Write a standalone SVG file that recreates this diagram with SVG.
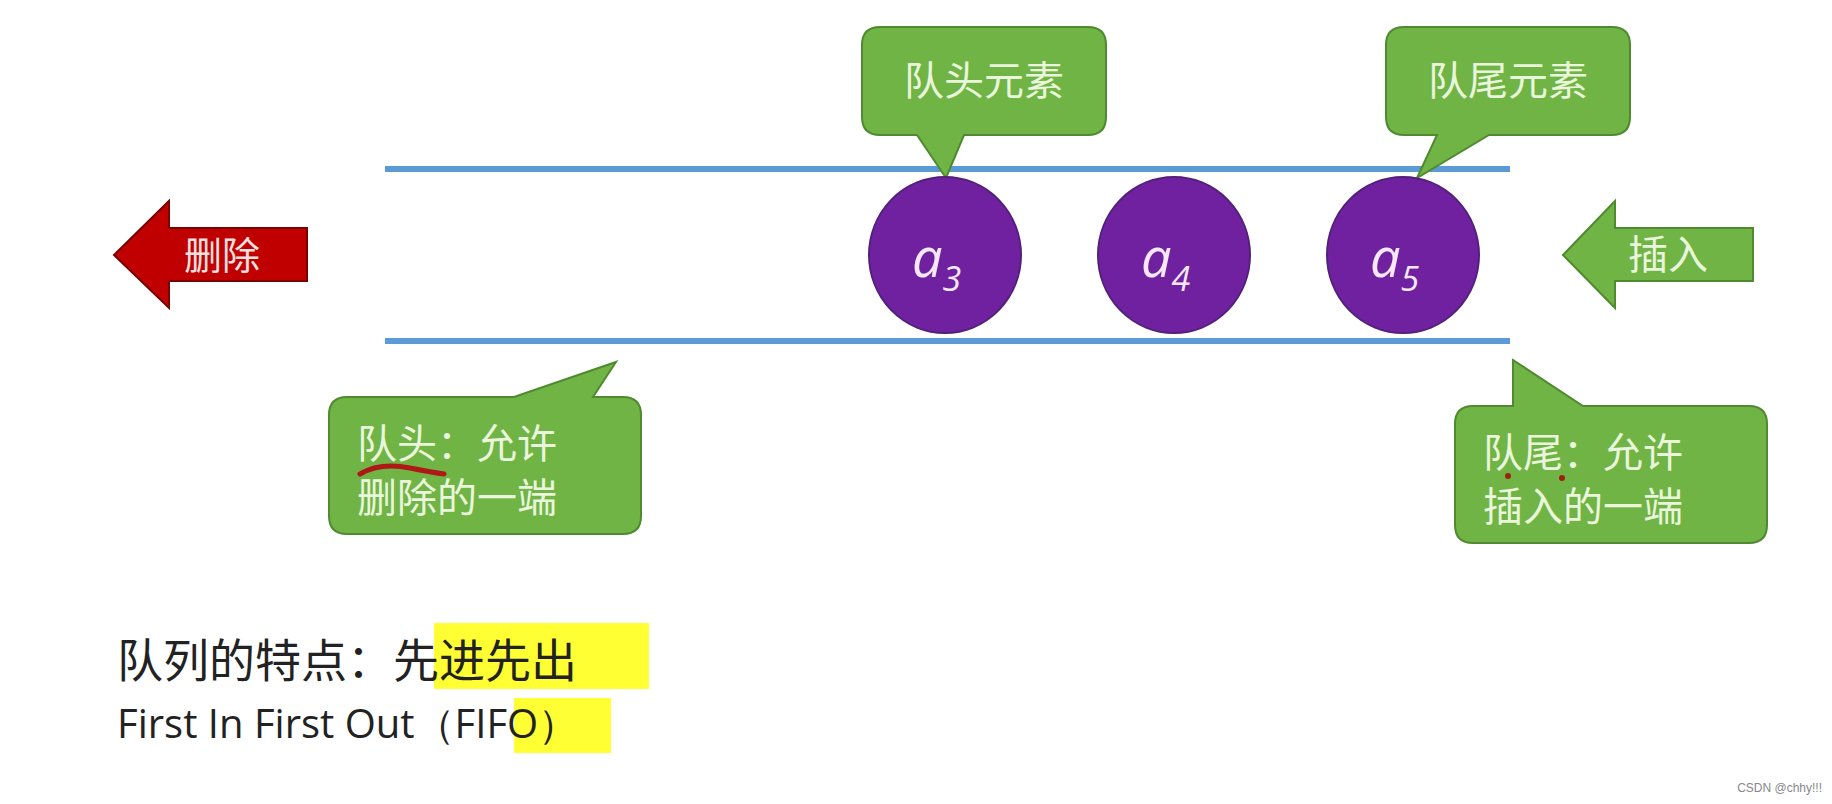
<svg xmlns="http://www.w3.org/2000/svg" width="1832" height="804" viewBox="0 0 1832 804">
<style>
.call{fill:#70b445;stroke:#4f8a30;stroke-width:2}
.ct{font-family:"Noto Sans CJK SC",sans-serif;font-size:40px;fill:#eaf6dc}
.lane{stroke:#5b9bd5;stroke-width:6}
.node{fill:#7021a0;stroke:#52207a;stroke-width:2}
.nt{font-family:"Open Sans","DejaVu Sans",sans-serif;font-style:italic;fill:#f6e8f8}
.bt{font-family:"Noto Sans CJK SC",sans-serif;font-size:46px;fill:#222}
</style>
<rect width="1832" height="804" fill="#fff"/>
<g id="connectors">
<line class="lane" x1="385" y1="169" x2="1510" y2="169"/>
<line class="lane" x1="385" y1="341" x2="1510" y2="341"/>
</g>
<g id="head-elem">
<path class="call" d="M880,27 H1088 Q1106,27 1106,45 V117 Q1106,135 1088,135 H964 L946,178 L917,135 H880 Q862,135 862,117 V45 Q862,27 880,27 Z"/>
<text class="ct" x="984" y="95" text-anchor="middle">队头元素</text>
</g>
<g id="tail-elem">
<path class="call" d="M1404,27 H1612 Q1630,27 1630,45 V117 Q1630,135 1612,135 H1489 L1417,178 L1437,135 H1404 Q1386,135 1386,117 V45 Q1386,27 1404,27 Z"/>
<text class="ct" x="1508" y="95" text-anchor="middle">队尾元素</text>
</g>
<g id="a3"><ellipse class="node" cx="945" cy="255" rx="76" ry="78"/><text class="nt" x="912" y="277" font-size="54">a<tspan font-size="34" dy="14">3</tspan></text></g>
<g id="a4"><ellipse class="node" cx="1174" cy="255" rx="76" ry="78"/><text class="nt" x="1141" y="277" font-size="54">a<tspan font-size="34" dy="14">4</tspan></text></g>
<g id="a5"><ellipse class="node" cx="1403" cy="255" rx="76" ry="78"/><text class="nt" x="1370" y="277" font-size="54">a<tspan font-size="34" dy="14">5</tspan></text></g>
<g id="delete">
<path d="M114,255 L169,201 V228 H307 V281 H169 V308 Z" fill="#c00000" stroke="#7a0000" stroke-width="2"/>
<text x="222" y="269" text-anchor="middle" font-family="Noto Sans CJK SC,sans-serif" font-size="38" fill="#f6e0e0">删除</text>
</g>
<g id="insert">
<path d="M1563,255 L1615,201 V228 H1753 V281 H1615 V308 Z" class="call"/>
<text x="1668" y="269" text-anchor="middle" class="ct" font-size="38">插入</text>
</g>
<g id="head-end">
<path class="call" d="M347,397 H514 L616,362 L593,397 H623 Q641,397 641,415 V516 Q641,534 623,534 H347 Q329,534 329,516 V415 Q329,397 347,397 Z"/>
<text class="ct" x="357" y="458">队头：允许</text>
<text class="ct" x="357" y="512">删除的一端</text>
<path d="M360,474 Q380,462 410,468 Q430,472 444,474" fill="none" stroke="#b01818" stroke-width="5" stroke-linecap="round"/>
</g>
<g id="tail-end">
<path class="call" d="M1473,406 H1513 V360 L1583,406 H1749 Q1767,406 1767,424 V525 Q1767,543 1749,543 H1473 Q1455,543 1455,525 V424 Q1455,406 1473,406 Z"/>
<text class="ct" x="1483" y="467">队尾：允许</text>
<text class="ct" x="1483" y="521">插入的一端</text>
<circle cx="1508" cy="476" r="3" fill="#a02010"/><circle cx="1562" cy="478" r="3" fill="#a02010"/>
</g>
<g id="notes">
<rect x="434" y="623" width="215" height="66" fill="#ffff33"/>
<rect x="514" y="698" width="97" height="55" fill="#ffff33"/>
<text class="bt" x="117" y="677">队列的特点：先进先出</text>
<text x="117" y="738" font-family="Open Sans,sans-serif" font-size="40" fill="#222">First In First Out（FIFO）</text>
</g>
<text x="1822" y="792" text-anchor="end" font-family="Liberation Sans,sans-serif" font-size="12" fill="#888">CSDN @chhy!!!</text>
</svg>
